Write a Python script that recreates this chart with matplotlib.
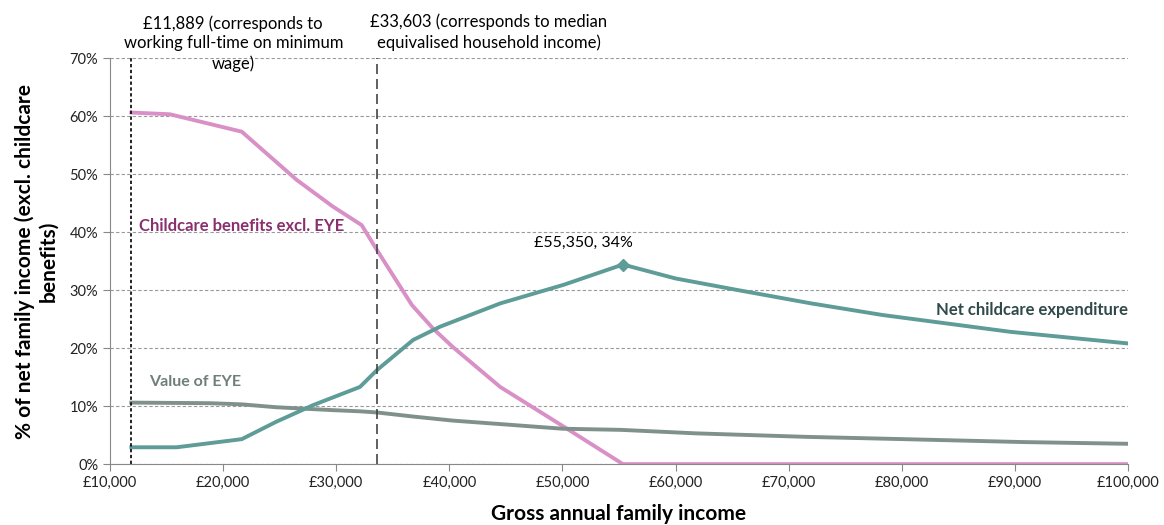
import matplotlib
matplotlib.use('Agg')
from matplotlib import pyplot as plt
from matplotlib.ticker import FuncFormatter

plt.rcParams['font.family'] = ['Lato', 'DejaVu Sans']

# Childcare benefits excl. EYE (% of net family income)
benefit_income = [11889, 15300, 21650, 26500, 29700, 32250, 33600, 36700, 38550, 40300, 44500, 50000, 55350, 100000]
benefit_pct = [60.6, 60.3, 57.3, 49.0, 44.4, 41.2, 36.9, 27.4, 23.4, 20.2, 13.3, 6.6, 0.0, 0.0]

# Net childcare expenditure
net_income = [11889, 15900, 21650, 24700, 28000, 32100, 33600, 36800, 39200, 44500, 50100, 55350, 60000, 65500, 72000, 78300, 89600, 100000]
net_pct = [2.9, 2.9, 4.3, 7.3, 10.2, 13.3, 16.2, 21.4, 23.7, 27.7, 30.9, 34.4, 32.0, 30.0, 27.7, 25.7, 22.8, 20.8]

# Value of EYE
eye_income = [11889, 18800, 21650, 24700, 29700, 32100, 33600, 36800, 40300, 44500, 50000, 55200, 61800, 71500, 80200, 90700, 100000]
eye_pct = [10.6, 10.5, 10.3, 9.8, 9.3, 9.1, 8.9, 8.2, 7.5, 6.9, 6.1, 5.9, 5.3, 4.7, 4.3, 3.8, 3.5]

min_wage_income = 11889
median_income = 33603
peak = (55350, 34.4)

pink = '#D890C6'
teal = '#5E9C98'
grey = '#80918B'

fig = plt.figure(figsize=(11.64, 5.25), dpi=100)
ax = fig.add_axes([0.0945, 0.116, 0.8745, 0.7735])

ax.plot(benefit_income, benefit_pct, color=pink, lw=2.8)
ax.plot(eye_income, eye_pct, color=grey, lw=2.8)
ax.plot(net_income, net_pct, color=teal, lw=2.8)
ax.plot([peak[0]], [peak[1]], marker='D', color=teal, ms=6)

ax.axvline(min_wage_income, color='black', lw=1.2, ls=(0, (2, 1.5)))
ax.axvline(median_income, color='#444444', lw=1.2, ls=(0, (6, 3)))

ax.set_xlim(10000, 100000)
ax.set_ylim(0, 70)
ax.set_xticks(range(10000, 100001, 10000))
ax.set_yticks(range(0, 71, 10))
ax.xaxis.set_major_formatter(FuncFormatter(lambda v, p: f'£{int(v):,}'))
ax.yaxis.set_major_formatter(FuncFormatter(lambda v, p: f'{int(v)}%'))
ax.yaxis.grid(True, color='#999999', ls=(0, (3, 2)), lw=0.8)
ax.set_axisbelow(True)
for s in ['top', 'right']:
    ax.spines[s].set_visible(False)
for s in ['left', 'bottom']:
    ax.spines[s].set_color('#888888')
ax.tick_params(axis='both', colors='#888888', labelcolor='#222222', labelsize=10.5, length=5)

ax.set_xlabel('Gross annual family income', fontsize=15, fontweight='bold', labelpad=10)
ax.set_ylabel('% of net family income (excl. childcare\nbenefits)', fontsize=15, fontweight='bold', labelpad=8)

ax.text(20900, 72.5, '£11,889 (corresponds to\nworking full-time on minimum\nwage)', ha='center', va='center',
        fontsize=12, linespacing=1.3)
ax.text(43500, 74.4, '£33,603 (corresponds to median\nequivalised household income)', ha='center', va='center',
        fontsize=12, linespacing=1.3)
ax.text(12600, 41.0, 'Childcare benefits excl. EYE', color='#8A2F6E', fontsize=12, fontweight='bold', va='center')
ax.text(13500, 14.2, 'Value of EYE', color='#6E7E79', fontsize=11.5, fontweight='bold', va='center')
ax.text(100000, 26.5, 'Net childcare expenditure', color='#2F4A48', fontsize=12, fontweight='bold', ha='right', va='center')
ax.text(peak[0] - 3500, peak[1] + 3.8, f'£{peak[0]:,}, {round(peak[1])}%', ha='center', va='center', fontsize=11.5)

fig.savefig('out.png', dpi=100)
